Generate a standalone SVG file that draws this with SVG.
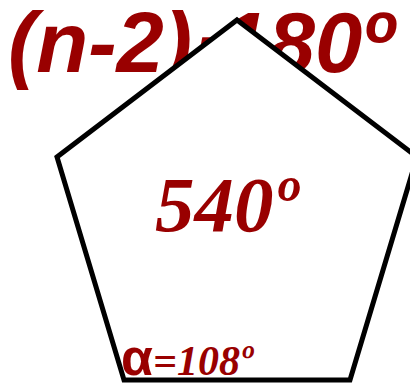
<svg xmlns="http://www.w3.org/2000/svg" width="410" height="383" viewBox="0 0 410 383">
<style>
.red{fill:#990000}
.formula{font-family:"Liberation Sans",Arial,sans-serif;font-weight:bold;font-style:italic;font-size:85px}
.sum{font-family:"Liberation Serif","Times New Roman",serif;font-weight:bold;font-style:italic;font-size:79px}
.ang{font-family:"Liberation Serif","Times New Roman",serif;font-weight:bold;font-style:italic;font-size:42px}
.alpha{font-family:"Liberation Sans",Arial,sans-serif;font-weight:bold;font-style:normal;font-size:52px}
</style>
<rect width="410" height="383" fill="#ffffff"/>
<g id="formula"><text class="formula red" x="8" y="72">(n-2)·180º</text></g>
<g id="pentagon"><polygon points="237,20 417,157 350,380 124,380 57,157" fill="#ffffff" stroke="#000000" stroke-width="5" stroke-linejoin="miter"/></g>
<g id="sum"><text class="sum red" x="155" y="231">540º</text></g>
<g id="angle"><text class="ang red" x="121" y="375"><tspan class="alpha">α</tspan>=108º</text></g>
</svg>
